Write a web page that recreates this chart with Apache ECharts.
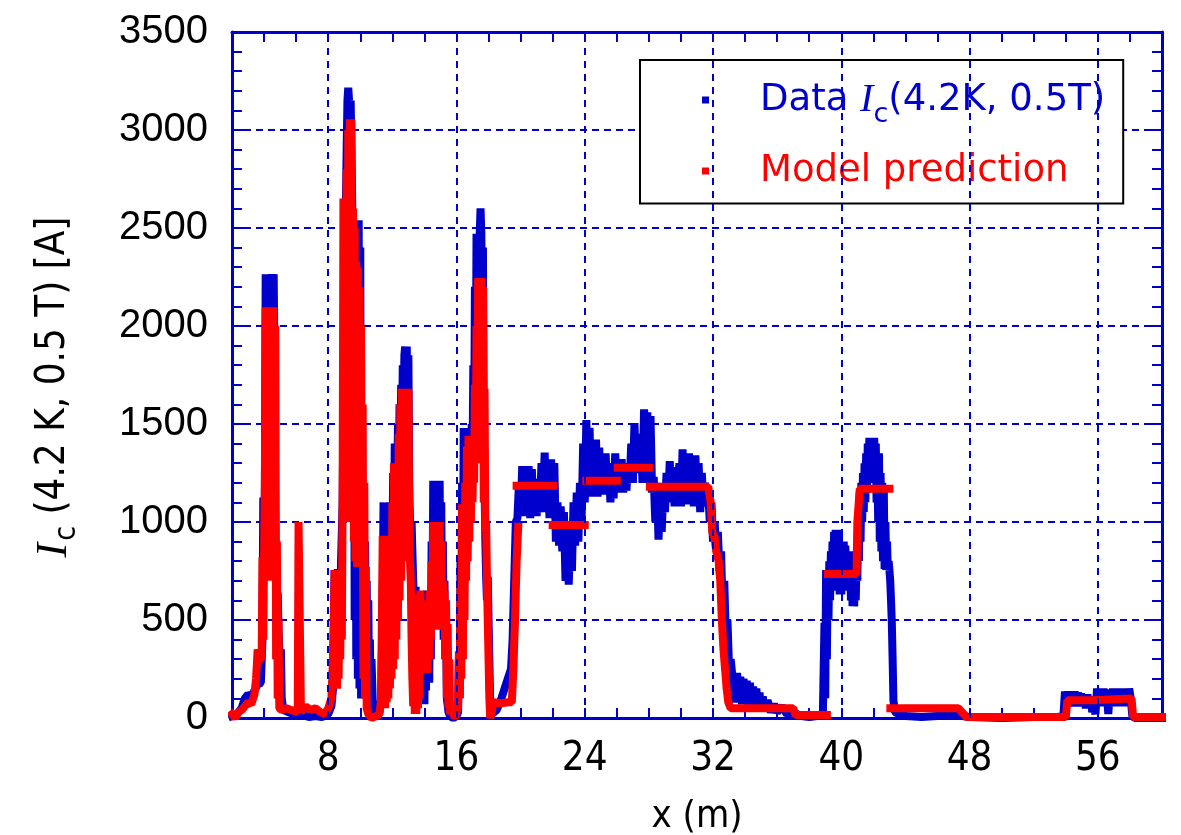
<!DOCTYPE html>
<html>
<head>
<meta charset="utf-8">
<script src="https://cdn.jsdelivr.net/npm/echarts@6/dist/echarts.min.js"></script>
<style>
  html, body { margin: 0; padding: 0; background: #fff; }
  #chart { width: 1181px; height: 835px; }
</style>
</head>
<body>
<div id="chart"></div>
<script>
// tick labels on x, every 8 m
const xMajor = [8, 16, 24, 32, 40, 48, 56];

// measured Ic(4.2K, 0.5T) trace, [x (m), Ic (A)]
const blueStart = [
  [2.0, 10], [2.3, 20], [2.6, 50], [2.8, 100], [3.0, 120], [3.2, 110], [3.4, 140], [3.6, 170], [3.8, 180],
  [3.9, 400], [3.95, 1125], [4.0, 700], [4.05, 1125], [4.1, 2264], [4.15, 1900], [4.2, 2264], [4.25, 2000],
  [4.3, 2264], [4.35, 2100], [4.4, 2264], [4.45, 2150], [4.5, 2264], [4.55, 2200], [4.6, 2264], [4.65, 1800],
  [4.7, 1000], [4.75, 640], [4.8, 500], [4.85, 640], [4.9, 450], [4.95, 350], [5.0, 280], [5.05, 350],
  [5.1, 100], [5.2, 40], [5.5, 30], [5.8, 20], [6.1, 10], [6.4, 15], [6.8, 5], [7.2, 10], [7.6, 5],
  [8.0, 20], [8.2, 60]
];
const bluePeaks = [
  [8.3, 150], [8.4, 755], [8.5, 200], [8.6, 760], [8.7, 300], [8.8, 800], [8.9, 1100], [9.0, 2000],
  [9.1, 2600], [9.15, 2900], [9.2, 3150], [9.25, 3215], [9.3, 3150], [9.35, 3100], [9.4, 3150], [9.45, 2900],
  [9.5, 2600], [9.55, 1500], [9.6, 2500], [9.65, 500], [9.7, 2400], [9.75, 300], [9.8, 2540], [9.85, 200],
  [9.9, 2540], [9.95, 150], [10.0, 2400], [10.05, 100], [10.1, 1500], [10.15, 150], [10.2, 950], [10.25, 100],
  [10.3, 900], [10.35, 150], [10.4, 700], [10.45, 100], [10.5, 600], [10.55, 100], [10.6, 400], [10.65, 50],
  [10.7, 300], [10.8, 20], [11.0, 10], [11.2, 30], [11.3, 100],
  [11.35, 100], [11.4, 600], [11.45, 1100], [11.5, 300], [11.55, 1100], [11.6, 400], [11.65, 1100], [11.7, 500],
  [11.75, 1050], [11.8, 600], [11.85, 1100], [11.9, 700], [11.95, 1100], [12.0, 800], [12.05, 1250], [12.1, 900],
  [12.15, 1400], [12.2, 1000], [12.25, 1400], [12.3, 1100], [12.35, 1500], [12.4, 1200], [12.45, 1600], [12.5, 1300],
  [12.55, 1700], [12.6, 1400], [12.65, 1800], [12.7, 1500], [12.75, 1850], [12.8, 1895], [12.85, 1700], [12.9, 1895],
  [12.95, 1500], [13.0, 1850], [13.05, 1200], [13.1, 1000], [13.15, 900], [13.2, 1000], [13.25, 850], [13.3, 700],
  [13.35, 600], [13.4, 150], [13.45, 670], [13.5, 120], [13.55, 600], [13.6, 100], [13.65, 580], [13.7, 120],
  [13.75, 600], [13.8, 150], [13.85, 580], [13.9, 100], [13.95, 590], [14.0, 70], [14.05, 600], [14.1, 140],
  [14.15, 650], [14.2, 300], [14.25, 650], [14.3, 180], [14.35, 650], [14.4, 300], [14.45, 900], [14.5, 500],
  [14.55, 1210], [14.6, 600], [14.65, 1210], [14.7, 700], [14.75, 1210], [14.8, 700], [14.85, 1200], [14.9, 650],
  [14.95, 1210], [15.0, 600], [15.05, 1100], [15.1, 500], [15.15, 900], [15.2, 400], [15.25, 700], [15.3, 300],
  [15.35, 500], [15.4, 100], [15.5, 30], [15.6, 10], [15.8, 0], [16.0, 10],
  [16.1, 30], [16.15, 300], [16.2, 100], [16.25, 800], [16.3, 300], [16.35, 1200], [16.4, 500], [16.45, 1480],
  [16.5, 700], [16.55, 1480], [16.6, 900], [16.65, 1480], [16.7, 1000], [16.75, 1450], [16.8, 1100], [16.85, 1450],
  [16.9, 1200], [16.95, 1500], [17.0, 1300], [17.05, 1800], [17.1, 1400], [17.15, 2200], [17.2, 1600], [17.25, 2470],
  [17.3, 1800], [17.35, 2470], [17.4, 2000], [17.45, 2470], [17.5, 2600], [17.55, 2470], [17.6, 2000], [17.65, 2400],
  [17.7, 1500], [17.75, 1200], [17.8, 900], [17.85, 720], [17.9, 600], [17.95, 720], [18.0, 500], [18.05, 300],
  [18.1, 80], [18.2, 20], [18.5, 40], [18.8, 100], [19.0, 150], [19.2, 200], [19.4, 250], [19.5, 400], [19.6, 700]
];
const bluePlateau = [
  [19.7, 1000], [19.8, 1020], [19.9, 1200], [20.0, 1030], [20.1, 1285], [20.2, 1040], [20.3, 1250], [20.4, 1030],
  [20.5, 1285], [20.6, 1020], [20.7, 1270], [20.8, 1040], [20.9, 1200], [21.0, 1030], [21.1, 1220], [21.2, 1050],
  [21.3, 1300], [21.4, 1100], [21.5, 1354], [21.6, 1050], [21.7, 1250], [21.8, 1020], [21.9, 1320], [22.0, 1060],
  [22.1, 1300], [22.2, 900], [22.3, 1100], [22.4, 880], [22.5, 1080], [22.6, 850], [22.7, 1050], [22.8, 700],
  [22.9, 1000], [23.0, 680], [23.1, 950], [23.2, 750], [23.3, 1100], [23.4, 880], [23.5, 1150], [23.6, 900],
  [23.7, 1200], [23.8, 1000], [23.9, 1400], [24.0, 1100], [24.1, 1520], [24.2, 1150], [24.3, 1480], [24.4, 1130],
  [24.5, 1350], [24.6, 1150], [24.7, 1420], [24.8, 1130], [24.9, 1380], [25.0, 1150], [25.1, 1300], [25.2, 1140],
  [25.3, 1350], [25.4, 1160], [25.5, 1300], [25.6, 1100], [25.7, 1250], [25.8, 1120], [25.9, 1350], [26.0, 1150],
  [26.1, 1300], [26.2, 1170], [26.3, 1320], [26.4, 1150], [26.5, 1280], [26.6, 1160], [26.7, 1300], [26.8, 1200],
  [26.9, 1400], [27.0, 1200], [27.1, 1505], [27.2, 1250], [27.3, 1420], [27.4, 1300], [27.5, 1450], [27.6, 1200],
  [27.7, 1575], [27.8, 1300], [27.9, 1560], [28.0, 1200], [28.1, 1540], [28.2, 1150], [28.3, 1230], [28.4, 1000],
  [28.5, 1200], [28.6, 910], [28.7, 1150], [28.8, 950], [28.9, 1180], [29.0, 1050], [29.1, 1250], [29.2, 1100],
  [29.3, 1310], [29.4, 1100], [29.5, 1280], [29.6, 1080], [29.7, 1250], [29.8, 1100], [29.9, 1300], [30.0, 1080],
  [30.1, 1370], [30.2, 1100], [30.3, 1300], [30.4, 1090], [30.5, 1350], [30.6, 1100], [30.7, 1280], [30.8, 1080],
  [30.9, 1340], [31.0, 1100], [31.1, 1300], [31.2, 1050], [31.3, 1250], [31.4, 1100], [31.5, 1200], [31.6, 1080],
  [31.7, 1150], [31.8, 1000], [31.9, 1100], [32.0, 900], [32.1, 1000], [32.2, 850], [32.3, 950], [32.4, 750],
  [32.5, 850], [32.6, 550], [32.7, 700], [32.8, 400], [32.9, 500], [33.0, 250], [33.1, 300], [33.2, 220]
];
const blueTail = [
  [33.3, 230], [33.4, 80], [33.5, 230], [33.6, 80], [33.7, 210], [33.8, 70], [33.9, 200], [34.0, 70],
  [34.1, 190], [34.2, 60], [34.3, 180], [34.4, 60], [34.5, 160], [34.6, 50], [34.7, 150], [34.8, 50],
  [34.9, 130], [35.0, 40], [35.1, 110], [35.2, 40], [35.4, 90], [35.6, 30], [35.8, 70], [36.0, 30],
  [36.3, 60], [36.6, 20], [37.0, 30], [37.5, 10], [38.0, 5], [38.5, 10], [38.85, 20],
  [38.95, 485], [39.0, 100], [39.05, 755], [39.1, 300], [39.15, 755], [39.2, 500], [39.25, 800], [39.3, 600],
  [39.35, 850], [39.4, 650], [39.45, 900], [39.5, 700], [39.55, 950], [39.6, 700], [39.65, 960], [39.7, 750],
  [39.75, 960], [39.8, 700], [39.85, 960], [39.9, 630], [39.95, 900], [40.0, 630], [40.05, 850], [40.1, 650],
  [40.15, 900], [40.2, 700], [40.25, 880], [40.3, 700], [40.35, 850], [40.4, 680], [40.45, 850], [40.5, 650],
  [40.55, 850], [40.6, 600], [40.65, 800], [40.7, 570], [40.75, 750], [40.8, 570], [40.85, 700], [40.9, 600],
  [40.95, 800], [41.0, 700], [41.05, 1000], [41.1, 800], [41.15, 1150], [41.2, 900], [41.25, 1200], [41.3, 1000],
  [41.35, 1250], [41.4, 1050], [41.45, 1300], [41.5, 1100], [41.55, 1350], [41.6, 1150], [41.65, 1400], [41.7, 1200],
  [41.75, 1430], [41.8, 1250], [41.85, 1430], [41.9, 1200], [41.95, 1430], [42.0, 1250], [42.05, 1430], [42.1, 1200],
  [42.15, 1400], [42.2, 1100], [42.25, 1300], [42.3, 1000], [42.35, 1350], [42.4, 900], [42.45, 1250], [42.5, 850],
  [42.55, 1200], [42.6, 800], [42.65, 1170], [42.7, 760], [42.75, 1000], [42.8, 755], [42.85, 900], [42.9, 755],
  [42.95, 800], [43.0, 755], [43.05, 700], [43.1, 600], [43.15, 485], [43.2, 300], [43.25, 90], [43.35, 30],
  [43.6, 20], [44.0, 10], [45.0, 5], [46.0, 10], [47.0, 15], [48.0, 5], [50.0, 0], [52.0, 5], [53.5, 5],
  [53.85, 10], [53.95, 135], [54.05, 60], [54.15, 135], [54.25, 60], [54.35, 130], [54.45, 70], [54.55, 135],
  [54.65, 60], [54.75, 130], [54.85, 60], [54.95, 125], [55.05, 60], [55.15, 120], [55.25, 50], [55.35, 120],
  [55.45, 60], [55.55, 110], [55.65, 30], [55.75, 60], [55.85, 20], [55.95, 150], [56.05, 60], [56.15, 150],
  [56.25, 70], [56.35, 150], [56.45, 60], [56.55, 145], [56.65, 20], [56.75, 140], [56.85, 60], [56.95, 150],
  [57.05, 70], [57.15, 150], [57.25, 60], [57.35, 145], [57.45, 70], [57.55, 150], [57.65, 60], [57.75, 145],
  [57.85, 70], [57.95, 150], [58.05, 100], [58.15, 10], [58.3, 0], [60.0, 0]
];

// model prediction trace, '-' breaks the line between separate steps
const redStart = [
  [2.0, 20], [2.2, 0], [2.4, 30], [2.6, 40], [2.8, 60], [3.0, 80], [3.2, 70], [3.4, 120], [3.5, 200],
  [3.6, 350], [3.7, 300], [3.85, 300], [3.9, 820], [3.95, 400], [4.0, 820], [4.05, 1200], [4.1, 2095],
  [4.15, 900], [4.2, 2095], [4.25, 800], [4.3, 2095], [4.35, 700], [4.4, 2095], [4.45, 800], [4.5, 2095],
  [4.55, 700], [4.6, 2095], [4.65, 800], [4.7, 2000], [4.75, 300], [4.8, 900], [4.85, 100], [4.9, 500],
  [4.95, 50], [5.1, 40], [5.4, 50], [5.7, 40], [6.1, 30], [6.15, 1000], [6.25, 1000], [6.3, 30],
  [6.6, 60], [6.9, 40], [7.2, 50], [7.5, 30], [7.8, 20], [8.0, 50], [8.2, 100]
];
const redPeaks = [
  [8.3, 300], [8.4, 755], [8.45, 200], [8.5, 755], [8.55, 150], [8.6, 755], [8.65, 200], [8.7, 740],
  [8.75, 300], [8.8, 755], [8.85, 400], [8.9, 1150], [8.95, 2650], [9.0, 1000], [9.05, 2600], [9.1, 1100],
  [9.15, 2800], [9.2, 1300], [9.25, 3000], [9.3, 2670], [9.35, 3055], [9.4, 2670], [9.45, 3055], [9.5, 1000],
  [9.55, 2600], [9.6, 900], [9.65, 2500], [9.7, 800], [9.75, 2330], [9.8, 770], [9.85, 2300], [9.9, 770],
  [9.95, 2200], [10.0, 770], [10.05, 2000], [10.1, 770], [10.15, 1600], [10.2, 200], [10.25, 1200], [10.3, 100],
  [10.35, 770], [10.4, 50], [10.5, 20], [10.7, 0], [11.0, 10], [11.2, 20], [11.3, 100],
  [11.35, 100], [11.4, 930], [11.45, 50], [11.5, 930], [11.55, 50], [11.6, 930], [11.65, 80], [11.7, 930],
  [11.75, 100], [11.8, 900], [11.85, 150], [11.9, 930], [11.95, 200], [12.0, 1100], [12.05, 250], [12.1, 1300],
  [12.15, 300], [12.2, 1300], [12.25, 400], [12.3, 1300], [12.35, 500], [12.4, 1450], [12.45, 600], [12.5, 1600],
  [12.55, 700], [12.6, 1680], [12.65, 800], [12.7, 1680], [12.75, 900], [12.8, 1680], [12.85, 900], [12.9, 1680],
  [12.95, 975], [13.0, 1680], [13.05, 975], [13.1, 800], [13.15, 700], [13.2, 400], [13.25, 200], [13.3, 60],
  [13.35, 580], [13.4, 20], [13.45, 600], [13.5, 20], [13.55, 630], [13.6, 50], [13.65, 600], [13.7, 100],
  [13.75, 650], [13.8, 230], [13.85, 600], [13.9, 230], [13.95, 590], [14.0, 230], [14.05, 600], [14.1, 250],
  [14.15, 580], [14.2, 230], [14.25, 600], [14.3, 300], [14.35, 650], [14.4, 400], [14.45, 800], [14.5, 450],
  [14.55, 1000], [14.6, 450], [14.65, 1000], [14.7, 500], [14.75, 1000], [14.8, 450], [14.85, 1000], [14.9, 500],
  [14.95, 1000], [15.0, 450], [15.05, 900], [15.1, 450], [15.15, 700], [15.2, 450], [15.25, 650], [15.3, 300],
  [15.35, 600], [15.4, 100], [15.45, 480], [15.5, 50], [15.55, 300], [15.6, 20], [15.7, 50], [15.8, 20],
  [15.9, 0], [16.0, 30], [16.1, 60],
  [16.15, 340], [16.2, 100], [16.25, 660], [16.3, 200], [16.35, 1090], [16.4, 300], [16.45, 1090], [16.5, 500],
  [16.55, 1200], [16.6, 700], [16.65, 1385], [16.7, 800], [16.75, 1440], [16.8, 900], [16.85, 1440], [16.9, 1000],
  [16.95, 1440], [17.0, 1100], [17.05, 1440], [17.1, 1200], [17.15, 1700], [17.2, 1300], [17.25, 2000], [17.3, 1400],
  [17.35, 2245], [17.4, 1600], [17.45, 2245], [17.5, 1700], [17.55, 2245], [17.6, 1500], [17.65, 2200], [17.7, 1100],
  [17.75, 1680], [17.8, 945], [17.85, 1000], [17.9, 700], [17.95, 500], [18.0, 300], [18.05, 100], [18.1, 0],
  [18.2, 30], [18.3, 80], [18.8, 75], [19.2, 80], [19.45, 80], [19.55, 250], [19.65, 500], [19.75, 800],
  [19.85, 975], [19.85, '-']
];
const redSteps = [
  [19.75, 1185], [22.05, 1185], [22.05, '-'],
  [22.0, 985], [24.0, 985], [24.0, '-'],
  [24.1, 1210], [26.0, 1210], [26.0, '-'],
  [26.06, 1277], [28.0, 1277], [28.0, '-'],
  [28.06, 1180], [31.7, 1180], [31.85, 1100], [31.95, 950], [32.1, 920], [32.2, 850], [32.35, 800], [32.45, 700],
  [32.55, 500], [32.65, 350], [32.75, 250], [32.85, 150], [32.95, 80], [33.1, 50], [37.0, 50], [37.15, 15],
  [39.1, 15], [39.1, '-'],
  [39.17, 735], [40.95, 735], [41.0, 1000], [41.1, 1000], [41.15, 1170], [43.0, 1170], [43.0, '-'],
  [43.06, 50], [47.3, 50], [47.8, 5], [54.0, 5], [54.1, 90], [55.7, 90], [55.8, 100], [58.1, 100],
  [58.2, 5], [60.0, 5]
];

const BLUE = '#0000cc';
const RED = '#ff0000';
const narrow = '"Liberation Sans Narrow", "DejaVu Sans Condensed", sans-serif';

const chart = echarts.init(document.getElementById('chart'));

const axisLine = { show: true, onZero: false, lineStyle: { color: BLUE, width: 3 } };
const tick = { inside: true, length: 10, lineStyle: { color: BLUE, width: 2 } };
const minor = { show: true, splitNumber: 5, length: 10, lineStyle: { color: BLUE, width: 2 } };

const option = {
  animation: false,
  backgroundColor: '#fff',
  grid: { left: 232, right: 19, top: 32, bottom: 117, containLabel: false, outerBoundsMode: 'none' },
  legend: {
    orient: 'vertical',
    left: 640,
    top: 60,
    padding: [20, 18, 14, 62],
    itemGap: 24,
    borderColor: '#000',
    borderWidth: 2,
    backgroundColor: '#fff',
    icon: 'rect',
    itemWidth: 7,
    itemHeight: 7,
    selectedMode: false,
    data: ['Data', 'Model prediction'],
    formatter: function (name) {
      if (name === 'Data') return '{b|Data }{bi|I}{bs|c}{b|(4.2K, 0.5T)}';
      return '{r|Model prediction}';
    },
    textStyle: {
      width: 363,
      padding: [0, 0, 0, 46],
      rich: {
        b: { color: BLUE, fontSize: 37, fontFamily: '"DejaVu Sans", sans-serif' },
        bi: { color: BLUE, fontSize: 40, fontFamily: '"Liberation Serif", serif', fontStyle: 'italic' },
        bs: { color: BLUE, fontSize: 27, fontFamily: '"DejaVu Sans", sans-serif', padding: [30, 0, 0, 0] },
        r: { color: RED, fontSize: 37, fontFamily: '"DejaVu Sans", sans-serif' }
      }
    }
  },
  xAxis: [
    {
      type: 'value', position: 'bottom', min: 2, max: 60, interval: 2,
      axisLine: axisLine, axisTick: tick, splitLine: { show: false },
      axisLabel: {
        margin: 22, color: '#000', fontSize: 40, fontFamily: narrow,
        formatter: function (v) { return xMajor.indexOf(v) >= 0 ? String(v) : ''; }
      },
      name: 'x (m)', nameLocation: 'middle', nameGap: 80,
      nameTextStyle: { fontSize: 38, fontFamily: narrow, color: '#000' }
    },
    {
      type: 'value', position: 'top', min: 2, max: 60, interval: 2,
      axisLine: axisLine, axisTick: tick, splitLine: { show: false }, axisLabel: { show: false }
    }
  ],
  yAxis: [
    {
      type: 'value', position: 'left', min: 0, max: 3500, interval: 500,
      axisLine: axisLine, axisTick: { inside: true, length: 12, lineStyle: { color: BLUE, width: 2 } },
      minorTick: minor,
      splitLine: { show: true, lineStyle: { color: BLUE, width: 2, type: [7, 5] } },
      axisLabel: {
        margin: 24, color: '#000', fontSize: 40, fontFamily: '"Liberation Sans", Arial, sans-serif',
        formatter: function (v) { return String(v); }
      },
      name: '{i|I}{s|c}{t| (4.2 K, 0.5 T) [A]}',
      nameLocation: 'middle', nameGap: 150, nameRotate: 90,
      nameTextStyle: {
        padding: [0, 24, 0, 0],
        rich: {
          i: { fontFamily: '"Liberation Serif", serif', fontStyle: 'italic', fontSize: 44, color: '#000' },
          s: { fontFamily: narrow, fontSize: 30, color: '#000', padding: [26, 0, 0, 2] },
          t: { fontFamily: narrow, fontSize: 40, color: '#000' }
        }
      }
    },
    {
      type: 'value', position: 'right', min: 0, max: 3500, interval: 500,
      axisLine: axisLine, axisTick: { inside: true, length: 12, lineStyle: { color: BLUE, width: 2 } },
      minorTick: minor, splitLine: { show: false }, axisLabel: { show: false }
    }
  ],
  series: [
    {
      type: 'line', data: [], silent: true, z: 1,
      markLine: {
        silent: true, animation: false, symbol: ['none', 'none'], label: { show: false },
        lineStyle: { color: BLUE, width: 2, type: [7, 6] },
        data: xMajor.map(function (v) { return { xAxis: v }; })
      }
    },
    {
      name: 'Data', type: 'line', z: 2, silent: true, symbol: 'none', color: BLUE,
      data: blueStart.concat(bluePeaks, bluePlateau, blueTail),
      lineStyle: { color: BLUE, width: 8, cap: 'square', join: 'bevel' }
    },
    {
      name: 'Model prediction', type: 'line', z: 3, silent: true, symbol: 'none', color: RED,
      data: redStart.concat(redPeaks, redSteps),
      lineStyle: { color: RED, width: 8, cap: 'square', join: 'bevel' }
    }
  ]
};

chart.setOption(option);
</script>
</body>
</html>
